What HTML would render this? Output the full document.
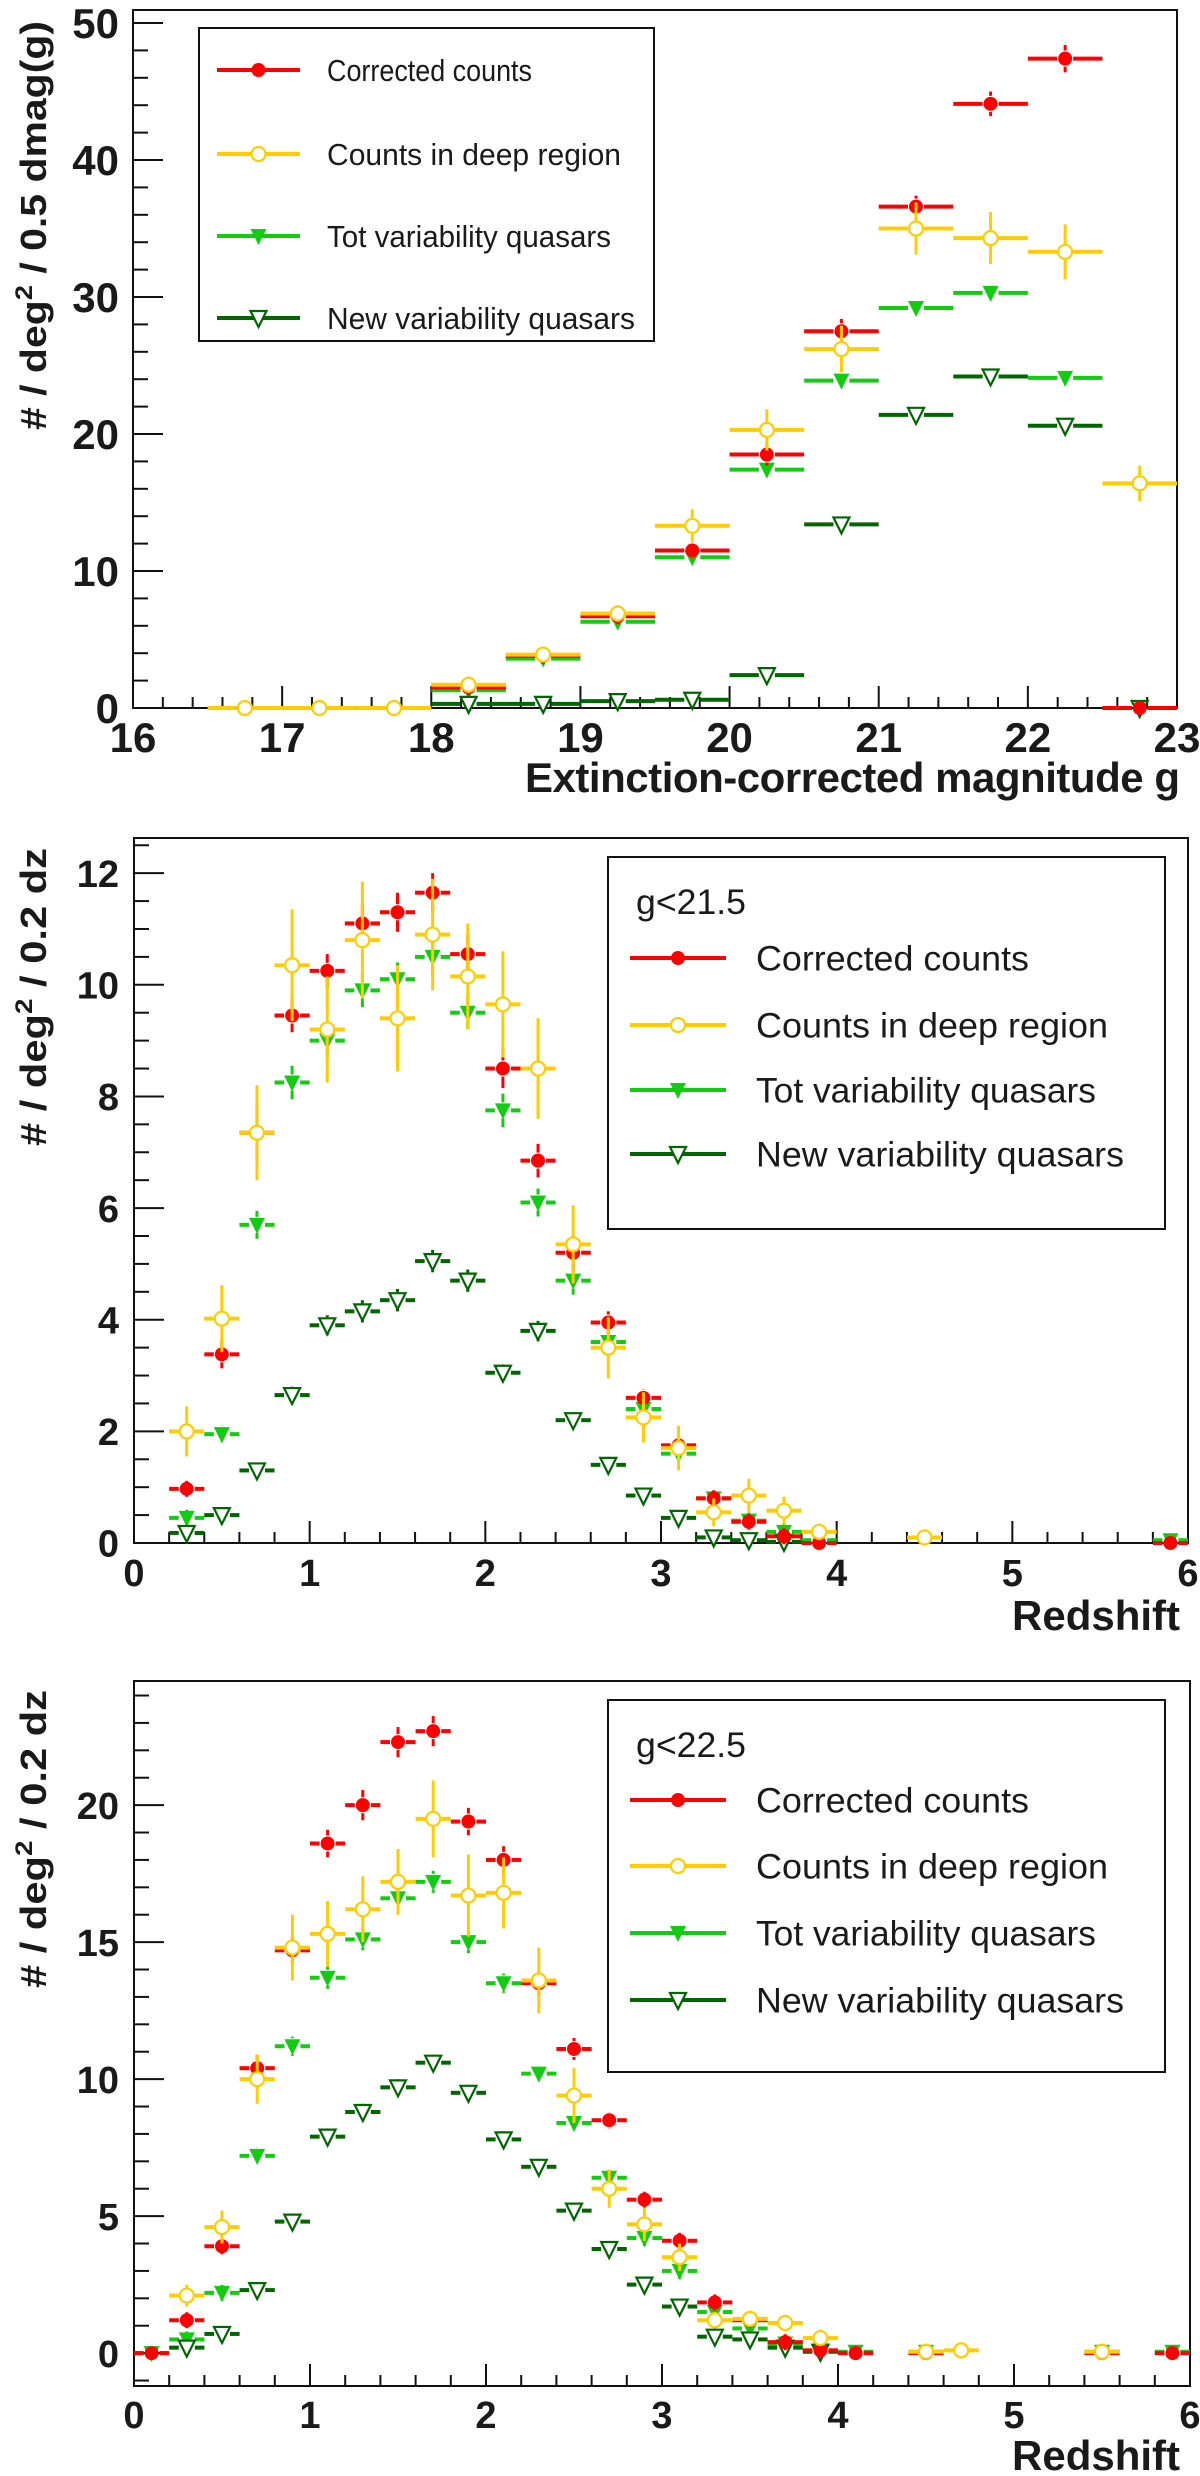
<!DOCTYPE html>
<html><head><meta charset="utf-8">
<style>
html,body{margin:0;padding:0;background:#fff;}
svg{display:block;}
text{font-family:"Liberation Sans",Arial,sans-serif;fill:#1a1a1a;}
</style></head>
<body>
<svg id="fig" width="1200" height="2476" viewBox="0 0 1200 2476" xmlns="http://www.w3.org/2000/svg"></svg>
<script>
// ===== Panel 1: magnitude distribution =====
const p1Centers = [16.75,17.25,17.75,18.25,18.75,19.25,19.75,20.25,20.75,21.25,21.75,22.25,22.75];
const p1Corr    = [null,null,null,1.5,3.8,6.7,11.5,18.5,27.5,36.6,44.1,47.4,0];
const p1CorrErr = [0,0,0,0.3,0.4,0.5,0.6,0.8,0.9,0.8,0.9,1.0,0];
const p1Deep    = [0,0,0,1.7,3.9,6.9,13.3,20.3,26.2,35.0,34.3,33.3,16.4];
const p1DeepErr = [0,0,0,0.3,0.4,0.6,1.2,1.5,1.7,1.9,1.9,2.0,1.3];
const p1Tot     = [null,null,null,1.3,3.6,6.3,11.0,17.4,23.9,29.2,30.3,24.1,0];
const p1New     = [null,null,null,0.3,0.3,0.5,0.6,2.4,13.4,21.4,24.2,20.6,0];
const p1XTicks  = [16,17,18,19,20,21,22,23];
const p1YTicks  = [0,10,20,30,40,50];

// ===== Panel 2: redshift, g<21.5 =====
const p2Centers = [0.3,0.5,0.7,0.9,1.1,1.3,1.5,1.7,1.9,2.1,2.3,2.5,2.7,2.9,3.1,3.3,3.5,3.7,3.9,4.5,5.9];
const p2Corr    = [0.97,3.38,7.35,9.45,10.25,11.1,11.3,11.65,10.55,8.5,6.85,5.2,3.95,2.6,1.75,0.8,0.38,0.12,0,null,0];
const p2CorrErr = [0.1,0.25,0.5,0.3,0.3,0.35,0.35,0.35,0.35,0.35,0.3,0.3,0.2,0.15,0.15,0.1,0.1,0.05,0,0,0];
const p2Deep    = [2.0,4.02,7.35,10.35,9.2,10.8,9.4,10.9,10.15,9.65,8.5,5.35,3.5,2.25,1.7,0.55,0.85,0.58,0.2,0.1,null];
const p2DeepErr = [0.45,0.6,0.85,1.0,0.95,1.05,0.95,1.0,0.95,0.95,0.9,0.7,0.55,0.45,0.4,0.25,0.3,0.25,0.15,0.08,0];
const p2Tot     = [0.45,1.95,5.7,8.25,9.0,9.9,10.1,10.5,9.5,7.75,6.1,4.7,3.6,2.4,1.6,0.8,0.4,0.2,0.05,null,0.05];
const p2TotErr  = [0.1,0.15,0.25,0.3,0.3,0.3,0.3,0.3,0.3,0.3,0.25,0.25,0.2,0.15,0.15,0.1,0.05,0.05,0,0,0];
const p2New     = [0.18,0.5,1.3,2.65,3.9,4.15,4.35,5.05,4.7,3.05,3.8,2.2,1.4,0.85,0.45,0.1,0.05,0.02,null,null,null];
const p2NewErr  = [0.05,0.1,0.12,0.15,0.18,0.2,0.2,0.2,0.2,0.15,0.18,0.12,0.1,0.08,0.06,0.03,0.02,0.01,0,0,0];
const p2XTicks  = [0,1,2,3,4,5,6];
const p2YTicks  = [0,2,4,6,8,10,12];

// ===== Panel 3: redshift, g<22.5 =====
const p3Centers = [0.1,0.3,0.5,0.7,0.9,1.1,1.3,1.5,1.7,1.9,2.1,2.3,2.5,2.7,2.9,3.1,3.3,3.5,3.7,3.9,4.1,4.5,4.7,5.5,5.9];
const p3Corr    = [0,1.2,3.9,10.4,14.7,18.6,20.0,22.3,22.7,19.4,18.0,13.5,11.1,8.5,5.6,4.1,1.85,1.2,0.4,0.1,0,0,null,0,0];
const p3CorrErr = [0,0.15,0.25,0.5,0.5,0.5,0.55,0.55,0.55,0.5,0.5,0.45,0.4,0.3,0.25,0.2,0.15,0.1,0.05,0,0,0,0,0,0];
const p3Deep    = [null,2.1,4.6,10.0,14.8,15.3,16.2,17.2,19.5,16.7,16.8,13.6,9.4,6.0,4.7,3.5,1.2,1.25,1.1,0.55,null,0.05,0.1,0.05,null];
const p3DeepErr = [0,0.4,0.6,0.9,1.2,1.2,1.2,1.2,1.4,1.5,1.3,1.2,1.0,0.7,0.6,0.5,0.3,0.3,0.3,0.2,0,0.05,0.05,0.05,0];
const p3Tot     = [0,0.5,2.2,7.2,11.2,13.7,15.1,16.6,17.2,15.0,13.5,10.2,8.4,6.4,4.2,3.0,1.5,0.9,0.35,0.1,0.05,0.05,null,0.05,0.05];
const p3TotErr  = [0,0.1,0.15,0.3,0.35,0.4,0.4,0.4,0.4,0.4,0.35,0.3,0.3,0.25,0.2,0.2,0.15,0.1,0.05,0,0,0,0,0,0];
const p3New     = [null,0.2,0.7,2.3,4.8,7.9,8.8,9.7,10.6,9.5,7.8,6.8,5.2,3.8,2.5,1.7,0.6,0.5,0.2,0.05,null,null,null,null,null];
const p3NewErr  = [0,0.05,0.1,0.2,0.25,0.3,0.3,0.3,0.3,0.3,0.3,0.25,0.2,0.2,0.15,0.12,0.08,0.06,0.03,0,0,0,0,0,0];
const p3XTicks  = [0,1,2,3,4,5,6];
const p3YTicks  = [0,5,10,15,20];

const legendLabels = ["Corrected counts","Counts in deep region","Tot variability quasars","New variability quasars"];
const COL = {red:"#ff0000", yel:"#ffcc00", grn:"#11cc11", dk:"#006600"};

const NS = "http://www.w3.org/2000/svg";
const svg = document.getElementById("fig");
function mk(tag, attrs, parent){
  const e = document.createElementNS(NS, tag);
  for (const k in attrs) e.setAttribute(k, attrs[k]);
  (parent||svg).appendChild(e);
  return e;
}

function marker(g, kind, cx, cy, color, name){
  let m;
  if (kind==="dot"){ m = mk("circle",{cx:cx,cy:cy,r:7,fill:color},g); }
  else if (kind==="ring"){ m = mk("circle",{cx:cx,cy:cy,r:7,fill:"#fff",stroke:color,"stroke-width":2.2},g); }
  else if (kind==="tri"){ m = mk("polygon",{points:`${cx-8},${cy-7} ${cx+8},${cy-7} ${cx},${cy+9}`,fill:color},g); }
  else { m = mk("polygon",{points:`${cx-8},${cy-7} ${cx+8},${cy-7} ${cx},${cy+9}`,fill:"#fff",stroke:color,"stroke-width":2.2},g); }
  
  
  return m;
}

function panel(cfg){
  const {x0,x1,y0,y1,xmin,xmax,ymin,ymax} = cfg;
  const X = v => x0 + (v-xmin)/(xmax-xmin)*(x1-x0);
  const Y = v => y0 - (v-ymin)/(ymax-ymin)*(y0-y1);
  const g = mk("g",{});
  
  
  const fr = mk("rect",{x:x0,y:y1,width:x1-x0,height:y0-y1,fill:"none",stroke:"#111","stroke-width":2},g);
  
  
  const xg = mk("g",{},g);
  
  
  for (let v = xmin; v <= xmax+1e-9; v += cfg.xMinor){
    const maj = Math.abs(v-Math.round(v))<1e-6;
    const len = maj?22:11;
    mk("line",{x1:X(v),x2:X(v),y1:y0,y2:y0-len,stroke:"#111","stroke-width":2},xg);
  }
  cfg.xTicks.forEach(v=>{
    const t = mk("text",{x:X(v),y:cfg.xLabY,"text-anchor":"middle","font-size":cfg.tickFs,"font-weight":"bold"},xg);
    t.textContent = v;
    
    
  });
  const yg = mk("g",{},g);
  
  
  const start = Math.ceil(ymin/cfg.yMinor)*cfg.yMinor;
  for (let v = start; v <= ymax+1e-9; v += cfg.yMinor){
    const r = v/cfg.yMajor;
    const maj = Math.abs(r-Math.round(r))<1e-6;
    const len = maj?30:15;
    mk("line",{x1:x0,x2:x0+len,y1:Y(v),y2:Y(v),stroke:"#111","stroke-width":2},yg);
  }
  cfg.yTicks.forEach(v=>{
    const t = mk("text",{x:119,y:Y(v)+cfg.tickFs*0.36,"text-anchor":"end","font-size":cfg.tickFs,"font-weight":"bold"},yg);
    t.textContent = v;
    
    
  });
  const xt = mk("text",{x:1180,y:cfg.xTitleY,"text-anchor":"end","font-size":cfg.xTitleFs,"font-weight":"bold"},g);
  if (cfg.xTitleLen) xt.setAttribute("textLength", cfg.xTitleLen);
  xt.textContent = cfg.xTitle;
  
  
  const yt = mk("text",{x:0,y:0,"text-anchor":"middle","font-size":36,"font-weight":"bold",
    transform:`translate(46,${(cfg.yTitleTop+cfg.yTitleBot)/2}) rotate(-90)`, textLength:(cfg.yTitleBot-cfg.yTitleTop), lengthAdjust:"spacingAndGlyphs"},g);
  
  
  const a = mk("tspan",{},yt); a.textContent = "# / deg";
  const b = mk("tspan",{dy:-14,"font-size":24},yt); b.textContent = "2";
  const c = mk("tspan",{dy:14},yt); c.textContent = " / " + cfg.yUnit;

  const hw = cfg.binW/2;
  const series = [
    {vals:cfg.tot, err:cfg.totErr, col:COL.grn, kind:"tri", name:"tot-variability-series"},
    {vals:cfg.nw, err:cfg.newErr, col:COL.dk, kind:"otri", name:"new-variability-series"},
    {vals:cfg.corr, err:cfg.corrErr, col:COL.red, kind:"dot", name:"corrected-counts-series"},
    {vals:cfg.deep, err:cfg.deepErr, col:COL.yel, kind:"ring", name:"deep-region-series"}
  ];
  series.forEach(s=>{
    const sg = mk("g",{},g);
    
    
    cfg.centers.forEach((cx,i)=>{
      const v = s.vals[i];
      if (v===null || v===undefined) return;
      const px = X(cx), py = Y(v);
      const gap = 8;
      mk("line",{x1:X(cx-hw),x2:px-gap,y1:py,y2:py,stroke:s.col,"stroke-width":4},sg);
      mk("line",{x1:px+gap,x2:X(cx+hw),y1:py,y2:py,stroke:s.col,"stroke-width":4},sg);
      const e = s.err ? s.err[i] : 0;
      if (e>0){
        mk("line",{x1:px,x2:px,y1:Y(v+e),y2:py-gap,stroke:s.col,"stroke-width":3},sg);
        mk("line",{x1:px,x2:px,y1:py+gap,y2:Y(v-e),stroke:s.col,"stroke-width":3},sg);
      }
      marker(sg, s.kind, px, py, s.col, 'data-point');
    });
  });

  const L = cfg.legend;
  const lg = mk("g",{},g);
  
  
  mk("rect",{x:L.x,y:L.y,width:L.w,height:L.h,fill:"#fff",stroke:"#111","stroke-width":2},lg);
  if (L.title){
    const tt = mk("text",{x:L.x+28,y:L.titleY,"font-size":L.fs,textLength:L.titleLen,lengthAdjust:"spacingAndGlyphs"},lg);
    tt.textContent = L.title;
    
    
  }
  const kinds = [["dot",COL.red],["ring",COL.yel],["tri",COL.grn],["otri",COL.dk]];
  legendLabels.forEach((lab,i)=>{
    const ry = L.rows[i];
    const eg = mk("g",{},lg);
    
    
    mk("line",{x1:L.lx1,x2:L.lx2,y1:ry,y2:ry,stroke:kinds[i][1],"stroke-width":4},eg);
    marker(eg, kinds[i][0], (L.lx1+L.lx2)/2, ry, kinds[i][1], 'legend-marker');
    const t = mk("text",{x:L.textX,y:ry+L.fs*0.36,"font-size":L.fs,textLength:L.lens[i],lengthAdjust:"spacingAndGlyphs"},eg);
    t.textContent = lab;
  });
}

panel({name:"magnitude-panel", x0:133,x1:1177,y0:708,y1:10,xmin:16,xmax:23,ymin:0,ymax:50.95,
  xMinor:0.2, yMinor:2, yMajor:10, xTicks:p1XTicks, yTicks:p1YTicks, tickFs:42, xLabY:752,
  xTitle:"Extinction-corrected magnitude g", xTitleY:792, xTitleFs:42, xTitleLen:655,
  yTitleTop:21, yTitleBot:430, yUnit:"0.5 dmag(g)",
  binW:0.5, centers:p1Centers, corr:p1Corr, corrErr:p1CorrErr, deep:p1Deep, deepErr:p1DeepErr,
  tot:p1Tot, totErr:null, nw:p1New, newErr:null,
  legend:{x:199,y:28,w:455,h:313,rows:[70,154,236,318],lx1:217,lx2:300,textX:327,fs:31,lens:[205,294,284,308]}
});
panel({name:"redshift-panel-g21-5", x0:134,x1:1188,y0:1543,y1:838,xmin:0,xmax:6,ymin:0,ymax:12.63,
  xMinor:0.2, yMinor:0.5, yMajor:2, xTicks:p2XTicks, yTicks:p2YTicks, tickFs:38, xLabY:1586,
  xTitle:"Redshift", xTitleY:1630, xTitleFs:42, xTitleLen:0,
  yTitleTop:848, yTitleBot:1146, yUnit:"0.2 dz",
  binW:0.2, centers:p2Centers, corr:p2Corr, corrErr:p2CorrErr, deep:p2Deep, deepErr:p2DeepErr,
  tot:p2Tot, totErr:p2TotErr, nw:p2New, newErr:p2NewErr,
  legend:{x:608,y:857,w:557,h:372,title:"g<21.5",titleLen:110,titleY:914,rows:[958,1025,1090,1154],lx1:630,lx2:726,textX:756,fs:35,lens:[273,352,340,368]}
});
panel({name:"redshift-panel-g22-5", x0:134,x1:1190,y0:2386,y1:1681,xmin:0,xmax:6,ymin:-1.2,ymax:24.53,
  xMinor:0.2, yMinor:1, yMajor:5, xTicks:p3XTicks, yTicks:p3YTicks, tickFs:38, xLabY:2428,
  xTitle:"Redshift", xTitleY:2470, xTitleFs:42, xTitleLen:0,
  yTitleTop:1690, yTitleBot:1988, yUnit:"0.2 dz",
  binW:0.2, centers:p3Centers, corr:p3Corr, corrErr:p3CorrErr, deep:p3Deep, deepErr:p3DeepErr,
  tot:p3Tot, totErr:p3TotErr, nw:p3New, newErr:p3NewErr,
  legend:{x:608,y:1700,w:557,h:372,title:"g<22.5",titleLen:110,titleY:1757,rows:[1800,1866,1933,2000],lx1:630,lx2:726,textX:756,fs:35,lens:[273,352,340,368]}
});
</script>
</body></html>
